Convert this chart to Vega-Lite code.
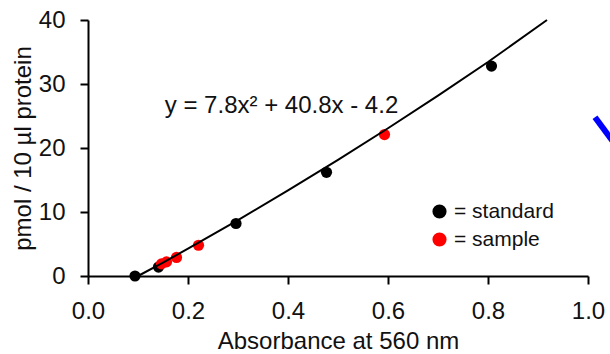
{
  "$schema": "https://vega.github.io/schema/vega-lite/v6.json",
  "width": 500,
  "height": 256,
  "autosize": "none",
  "padding": {"left": 88, "top": 20, "right": 22, "bottom": 78},
  "background": "white",
  "config": {
    "font": "Liberation Sans",
    "view": {"stroke": null},
    "axis": {
      "grid": false,
      "labelFlush": false,
      "domainColor": "#000",
      "domainWidth": 2,
      "tickColor": "#000",
      "tickWidth": 2,
      "tickSize": 8,
      "labelColor": "#111",
      "labelFontSize": 24,
      "labelFont": "Liberation Sans",
      "titleColor": "#111",
      "titleFontSize": 24,
      "titleFont": "Liberation Sans",
      "titleFontWeight": "normal"
    }
  },
  "datasets": {
    "curve": [
      {"x": 0.1, "y": 0.0},
      {"x": 0.15, "y": 2.1},
      {"x": 0.2, "y": 4.27},
      {"x": 0.3, "y": 8.74},
      {"x": 0.4, "y": 13.37},
      {"x": 0.5, "y": 18.15},
      {"x": 0.6, "y": 23.09},
      {"x": 0.7, "y": 28.18},
      {"x": 0.8, "y": 33.43},
      {"x": 0.918, "y": 40.0}
    ],
    "points": [
      {"x": 0.094, "y": 0.0, "type": "standard"},
      {"x": 0.141, "y": 1.4, "type": "standard"},
      {"x": 0.296, "y": 8.2, "type": "standard"},
      {"x": 0.477, "y": 16.2, "type": "standard"},
      {"x": 0.807, "y": 32.8, "type": "standard"},
      {"x": 0.147, "y": 1.9, "type": "sample"},
      {"x": 0.157, "y": 2.2, "type": "sample"},
      {"x": 0.177, "y": 2.9, "type": "sample"},
      {"x": 0.221, "y": 4.8, "type": "sample"},
      {"x": 0.593, "y": 22.1, "type": "sample"}
    ],
    "label": [
      {"x": 0.387, "y": 25.4, "text": "y = 7.8x² + 40.8x - 4.2"}
    ],
    "fragment": [
      {"x": 1.014, "y": 24.8},
      {"x": 1.05, "y": 21.0}
    ]
  },
  "layer": [
    {
      "data": {"name": "points"},
      "mark": {"type": "circle", "opacity": 1, "size": 125},
      "encoding": {
        "x": {
          "field": "x", "type": "quantitative",
          "scale": {"domain": [0, 1], "nice": false, "zero": false},
          "axis": {"values": [0, 0.2, 0.4, 0.6, 0.8, 1.0], "format": ".1f", "title": "Absorbance at 560 nm", "labelPadding": 15, "titlePadding": 6}
        },
        "y": {
          "field": "y", "type": "quantitative",
          "scale": {"domain": [0, 40], "nice": false},
          "axis": {"values": [0, 10, 20, 30, 40], "title": "pmol / 10 µl protein", "labelPadding": 15, "titlePadding": 3}
        },
        "color": {
          "field": "type", "type": "nominal",
          "scale": {"domain": ["standard", "sample"], "range": ["#000000", "#ff0000"]},
          "legend": {
            "title": null,
            "orient": "none",
            "legendX": 341,
            "legendY": 181,
            "padding": 0,
            "symbolType": "circle",
            "symbolSize": 200,
            "symbolStrokeWidth": 0,
            "symbolOpacity": 1,
            "labelFontSize": 21,
            "labelColor": "#111",
            "labelOffset": 4,
            "rowPadding": 6,
            "labelExpr": "'= ' + datum.label"
          }
        },
        "order": {"field": "type", "sort": "descending"}
      }
    },
    {
      "data": {"name": "curve"},
      "mark": {"type": "line", "color": "#000", "strokeWidth": 2},
      "encoding": {
        "x": {"field": "x", "type": "quantitative"},
        "y": {"field": "y", "type": "quantitative"}
      }
    },
    {
      "data": {"name": "label"},
      "mark": {"type": "text", "fontSize": 24, "color": "#111", "align": "center", "baseline": "alphabetic"},
      "encoding": {
        "x": {"field": "x", "type": "quantitative"},
        "y": {"field": "y", "type": "quantitative"},
        "text": {"field": "text"}
      }
    },
    {
      "data": {"name": "fragment"},
      "mark": {"type": "line", "color": "#0000ff", "strokeWidth": 6, "clip": false},
      "encoding": {
        "x": {"field": "x", "type": "quantitative"},
        "y": {"field": "y", "type": "quantitative"}
      }
    }
  ]
}
